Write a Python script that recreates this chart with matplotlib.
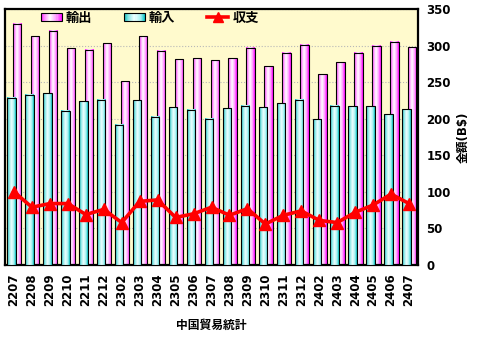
import numpy as np
import matplotlib
matplotlib.use("Agg")
import matplotlib.pyplot as plt
from matplotlib.colors import LinearSegmentedColormap
from matplotlib.legend_handler import HandlerBase
from matplotlib.patches import Rectangle
from matplotlib.lines import Line2D

plt.rcParams['font.family'] = ['DejaVu Sans', 'Noto Sans CJK JP']

months = ['2207', '2208', '2209', '2210', '2211', '2212', '2302', '2303', '2304',
          '2305', '2306', '2307', '2308', '2309', '2310', '2311', '2312', '2402',
          '2403', '2404', '2405', '2406', '2407']
exports = [330, 313, 320, 296, 294, 303, 251, 313, 293, 281, 283, 280, 283,
           297, 272, 290, 301, 261, 277, 290, 300, 305, 298]
imports = [229, 233, 235, 211, 224, 226, 192, 225, 203, 216, 212, 200, 214,
           218, 216, 221, 226, 199, 218, 217, 217, 206, 213]
balance = [100, 79, 84, 84, 69, 76, 58, 87, 89, 65, 70, 79, 68,
           77, 56, 68, 74, 61, 58, 72, 82, 97, 84]

pink_cmap = LinearSegmentedColormap.from_list(
    'pink', [(0, '#FF00FF'), (0.15, '#FF80FF'), (0.45, '#FFFFFF'),
             (0.75, '#FFA0FF'), (1, '#FF00FF')])
cyan_cmap = LinearSegmentedColormap.from_list(
    'cyan', [(0, '#00B4B4'), (0.2, '#80E4E4'), (0.5, '#F0FFFF'),
             (0.8, '#A0F0F0'), (1, '#00C0C0')])
grad = np.linspace(0, 1, 64).reshape(1, -1)


class GradientHandler(HandlerBase):
    def __init__(self, cmap):
        super().__init__()
        self.cmap = cmap

    def create_artists(self, legend, orig_handle, xdescent, ydescent,
                       width, height, fontsize, trans):
        arts = []
        n = 20
        h = height * 0.8
        y0 = -ydescent + (height - h) / 2
        for i in range(n):
            r = Rectangle((-xdescent + width * i / n, y0), width / n + 0.3, h,
                          facecolor=self.cmap((i + 0.5) / n), edgecolor='none',
                          transform=trans)
            arts.append(r)
        arts.append(Rectangle((-xdescent, y0), width, h, facecolor='none',
                              edgecolor='black', lw=0.8, transform=trans))
        return arts


def gradient_bars(ax, xs, heights, width, cmap, z):
    for x, h in zip(xs, heights):
        ax.imshow(grad, cmap=cmap, extent=[x - width / 2, x + width / 2, 0, h],
                  aspect='auto', interpolation='bilinear', zorder=z)
        ax.add_patch(Rectangle((x - width / 2, 0), width, h, facecolor='none',
                               edgecolor='black', lw=0.8, zorder=z + 0.1))


fig = plt.figure(figsize=(4.8, 3.45), dpi=100)
ax = fig.add_axes([5 / 480, 1 - 265 / 345, 413 / 480, 256 / 345])
ax.set_facecolor('#FFFACD')

x = np.arange(len(months))
w = 0.47
gradient_bars(ax, x + 0.18, exports, w, pink_cmap, 2)
gradient_bars(ax, x - 0.14, imports, w, cyan_cmap, 3)
ax.plot(x, balance, color='red', lw=2.6, marker='^', markersize=9, zorder=6)

ax.set_xlim(-0.5, len(months) - 0.5)
ax.set_ylim(0, 350)
ax.set_yticks(range(0, 351, 50))
ax.yaxis.tick_right()
ax.yaxis.set_label_position('right')
ax.grid(axis='y', color='#B8B8B8', ls=':', lw=0.8, zorder=1)
ax.set_axisbelow(True)
ax.set_xticks(x)
ax.set_xticklabels(months, rotation=90, fontsize=8.5, fontweight='bold')
ax.tick_params(axis='x', length=0, pad=6)
ax.tick_params(axis='y', length=0, pad=6, labelsize=8.5)
for t in ax.get_yticklabels():
    t.set_fontweight('bold')
for s in ax.spines.values():
    s.set_linewidth(1.6)
    s.set_color('black')

ax.set_ylabel('金額(B$)', fontsize=8.5, fontweight='bold', labelpad=4)
ax.set_xlabel('中国貿易統計', fontsize=8.5, fontweight='bold', labelpad=9)

h_exp = Rectangle((0, 0), 1, 1)
h_imp = Rectangle((0, 0), 1, 1)
h_bal = Line2D([], [], color='red', lw=2.6, marker='^', markersize=7)
ax.legend([h_exp, h_imp, h_bal], ['輸出', '輸入', '収支'],
          handler_map={h_exp: GradientHandler(pink_cmap),
                       h_imp: GradientHandler(cyan_cmap)},
          loc='upper left', bbox_to_anchor=(33 / 413, 1.0), ncol=3,
          frameon=False, prop={'weight': 'bold', 'size': 9.5},
          handlelength=1.6, handletextpad=0.3, columnspacing=2.4,
          borderaxespad=0.1, borderpad=0.1)

fig.savefig('out.png', dpi=100)
